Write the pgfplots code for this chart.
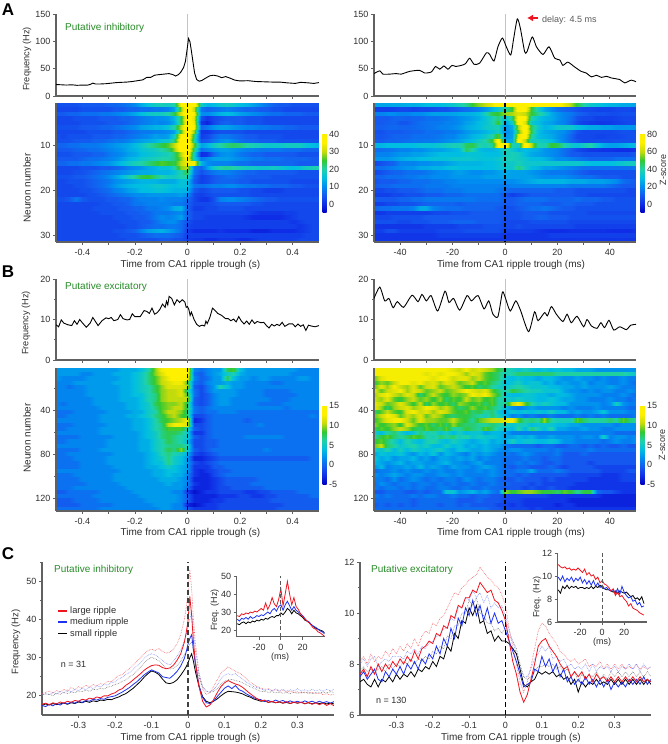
\documentclass[border=0pt]{standalone}
\usepackage{pgfplots}
\usepackage{pgfplotstable}
\pgfplotsset{compat=1.18}
\usepackage{fontspec}
\setmainfont{Liberation Sans}
\usetikzlibrary{arrows.meta}
\definecolor{txt}{gray}{0.18}
\definecolor{axgray}{gray}{0.38}
\definecolor{putgreen}{RGB}{40,140,40}
\definecolor{rred}{RGB}{240,20,30}
\definecolor{rblue}{RGB}{30,50,240}
\definecolor{zeroline}{RGB}{245,175,175}

% heat maps: rows top to bottom, 41 columns, middle column is time 0
\pgfplotstableread[header=false]{
4 4 4 4 5 5 5 5 6 6 7 8 10 13 16 18 19 18 20 35 40 38 18 14 15 17 18 17 15 14 12 10 8 6 5 5 4 4 4 4 4
3 3 3 3 4 4 4 4 4 5 5 6 6 7 7 8 8 9 12 28 40 30 8 6 7 8 9 8 7 6 6 5 5 4 4 3 3 3 3 3 3
5 5 6 6 7 7 7 8 8 9 10 11 13 15 17 18 18 20 24 32 40 34 10 10 12 14 15 14 12 11 10 9 8 7 7 6 6 6 5 5 5
3 3 3 4 4 4 4 5 5 5 6 6 7 8 9 10 10 11 14 24 38 32 4 1 3 4 5 5 5 4 4 4 3 3 3 3 3 3 3 3 3
3 3 3 3 4 4 4 4 5 5 5 6 7 8 9 10 9 10 13 24 38 33 1 -1 3 5 6 5 5 4 4 4 3 3 3 3 3 3 3 3 3
4 4 4 4 5 5 5 6 6 7 8 9 10 12 13 14 14 16 20 30 40 34 6 8 11 12 12 11 10 9 9 8 8 7 7 6 6 5 5 5 5
3 3 3 3 3 4 4 4 4 5 5 6 7 8 8 9 9 10 12 26 40 28 1 1 3 4 4 4 4 3 3 3 3 3 3 3 3 3 3 3 3
4 3 4 4 4 4 5 5 5 6 6 7 8 9 10 12 11 12 18 36 40 22 2 3 6 8 8 7 6 5 5 4 4 4 4 3 3 3 3 3 3
4 4 4 5 5 5 6 6 7 8 8 9 11 12 13 14 16 17 22 38 40 20 4 5 8 10 11 9 7 6 6 5 5 5 4 4 4 4 4 4 4
6 6 7 7 8 8 8 9 10 11 12 13 15 17 20 22 24 26 30 38 40 26 12 14 18 20 22 23 22 20 19 18 17 17 17 18 18 18 16 15 14
5 5 5 6 6 7 7 8 9 10 11 13 14 16 17 18 20 22 28 38 40 22 7 9 11 12 12 11 10 9 9 8 8 8 8 7 7 7 6 6 6
4 4 4 5 5 5 6 6 8 9 10 12 13 15 16 17 18 19 22 30 38 18 0 1 7 10 11 10 8 7 6 6 5 5 5 5 5 4 4 4 4
5 5 5 5 6 7 7 8 9 10 12 14 15 17 18 19 20 20 22 28 36 18 8 10 12 12 12 11 10 9 8 8 7 7 7 6 6 6 6 5 5
6 6 7 7 8 8 9 10 11 13 15 17 19 20 22 24 26 25 24 30 34 34 14 10 9 9 9 8 7 7 6 6 6 6 6 6 6 5 5 5 5
3 3 3 3 4 4 4 5 5 6 7 9 10 11 13 14 16 16 20 28 30 8 6 12 18 20 21 20 19 18 18 17 17 18 17 16 15 16 18 19 20
3 3 3 4 4 5 6 7 8 9 10 11 12 13 13 14 14 14 16 20 24 8 4 6 8 9 9 8 7 6 6 5 5 5 5 5 5 4 4 4 4
4 4 4 5 5 6 7 8 10 12 15 18 21 24 25 22 20 18 18 20 20 6 2 3 5 6 7 7 6 5 5 5 5 4 4 4 4 4 4 4 4
3 3 4 4 4 5 6 7 8 10 11 12 13 14 14 14 13 13 13 16 16 5 2 3 5 6 6 6 5 5 4 4 4 4 4 4 3 3 3 3 3
3 3 3 4 4 5 6 7 9 11 13 14 15 15 16 17 17 16 15 16 15 8 7 8 9 9 10 10 9 8 8 7 7 6 6 6 5 5 4 4 4
3 3 3 3 4 4 5 6 7 9 10 12 13 15 15 16 16 15 14 14 14 5 3 4 5 5 5 5 4 4 3 3 2 2 2 3 3 3 3 3 3
3 3 3 3 3 4 4 5 6 7 8 9 10 10 11 11 11 11 11 12 10 3 2 3 4 4 4 4 4 4 3 3 3 3 3 3 3 3 3 3 3
4 4 5 8 5 4 4 4 5 5 6 6 8 9 9 9 10 9 9 9 7 3 1 1 4 9 10 10 9 8 7 6 5 5 4 4 4 4 4 4 4
3 3 3 3 3 3 3 4 4 5 5 6 8 8 9 9 9 9 8 8 6 3 3 3 4 5 5 5 5 5 4 4 3 3 3 3 3 3 3 3 3
3 3 3 3 3 3 4 4 4 4 5 5 6 6 8 8 9 10 13 14 6 2 2 3 3 4 4 4 4 3 3 3 3 3 3 3 3 3 3 3 3
3 3 3 3 3 3 3 4 4 4 4 5 5 6 6 8 8 8 9 10 6 3 3 3 3 3 3 3 3 3 2 1 1 1 1 2 2 3 3 3 3
3 3 3 3 3 3 3 3 3 4 4 4 5 5 6 8 10 9 10 12 6 3 3 2 2 2 2 2 2 1 0 0 0 0 0 1 2 3 3 3 3
3 3 3 3 3 3 3 3 3 3 4 4 4 5 5 7 9 10 10 7 4 2 2 2 2 2 2 2 2 2 2 2 2 2 2 2 1 2 3 3 3
3 3 3 3 3 3 3 3 3 3 3 4 4 5 6 7 7 8 8 7 3 2 2 2 2 2 2 2 2 2 2 2 2 2 2 2 2 1 2 3 3
3 3 3 3 3 3 3 3 3 4 4 5 6 9 12 13 14 12 10 7 2 0 0 0 0 1 0 0 0 0 -1 -1 -1 0 0 0 0 1 2 3 3
3 3 3 3 3 3 3 3 3 3 4 4 4 5 6 7 7 7 6 5 2 2 2 2 2 2 2 2 2 2 2 2 2 2 2 2 2 2 3 3 3
3 3 3 3 3 3 3 3 3 3 3 4 4 4 4 4 5 5 4 4 2 1 1 0 0 1 1 1 0 0 1 2 2 2 2 2 2 3 3 3 3
}\heatAl
\pgfplotstableread[header=false]{
25 25 25 26 26 27 27 28 30 30 30 32 34 38 42 50 56 60 66 76 80 80 80 80 80 78 76 76 74 66 58 48 40 34 32 30 28 28 26 26 24
4 4 4 5 6 6 5 6 6 7 8 8 10 12 14 15 18 22 28 34 40 50 74 72 50 36 26 20 15 12 10 8 6 6 5 5 5 6 6 6 5
18 18 20 20 18 18 20 20 22 24 24 24 25 26 27 28 30 38 48 50 56 58 64 60 50 42 36 26 22 18 16 12 10 8 8 8 7 7 8 8 8
10 10 10 12 12 11 12 12 14 14 15 16 18 20 22 24 27 32 38 44 30 45 72 70 40 32 28 26 22 18 14 8 6 6 4 4 4 5 6 6 6
10 10 11 12 9 9 12 14 15 16 16 18 18 20 24 26 30 32 38 50 24 36 74 64 34 30 26 24 20 18 12 6 4 3 2 2 3 4 5 6 6
11 11 12 13 12 12 13 14 15 16 18 18 20 22 26 28 30 34 36 38 22 26 58 78 46 34 28 30 34 34 34 30 28 26 26 24 24 22 22 22 22
8 8 10 10 10 11 12 12 14 14 14 16 16 18 22 24 26 28 32 36 20 24 52 76 48 30 26 24 22 20 14 8 6 6 6 6 6 7 8 8 8
9 9 10 12 12 12 14 14 14 15 16 18 18 22 24 28 30 34 40 52 22 24 66 74 42 30 28 26 22 18 12 6 6 6 5 5 6 6 7 8 8
10 10 12 12 13 14 15 15 16 16 18 20 22 24 28 30 36 40 50 76 26 26 74 60 36 36 34 30 24 18 12 8 6 6 7 7 7 8 8 8 8
28 28 30 30 30 30 30 32 32 32 34 36 38 38 46 48 40 38 42 70 78 40 36 76 60 40 38 50 48 40 34 32 36 40 32 26 24 24 26 28 30
14 14 15 16 18 18 20 20 22 24 24 26 28 30 46 40 30 28 28 30 40 34 28 30 28 26 22 20 18 14 10 6 4 2 2 1 1 0 0 0 2
18 18 18 20 22 22 24 24 26 28 30 30 30 30 32 32 32 30 30 30 36 38 36 30 26 24 22 20 18 14 10 10 8 8 8 8 8 8 8 8 10
22 22 22 24 26 28 28 30 30 32 32 32 34 34 34 34 32 32 32 34 38 38 36 34 30 30 28 24 20 20 18 16 14 12 12 12 12 14 14 14 14
6 8 10 12 18 18 18 20 20 22 22 24 26 28 28 28 28 30 30 32 36 34 38 34 34 34 34 34 34 34 34 34 32 30 30 30 30 32 34 36 36
14 14 16 18 20 22 22 26 26 28 28 30 32 30 30 30 30 30 30 32 34 34 44 36 30 28 24 24 22 20 18 16 14 14 14 14 14 14 14 14 16
6 8 10 12 12 14 14 14 16 18 20 20 22 24 22 20 20 22 22 24 26 24 24 24 22 20 18 16 16 16 14 12 10 8 8 8 8 8 8 8 8
12 12 14 14 14 16 16 18 18 20 20 20 22 22 22 22 22 24 24 24 26 24 24 24 24 22 20 20 20 20 18 16 14 14 12 10 10 10 8 8 8
8 10 10 10 12 12 14 14 14 16 16 18 18 20 20 20 20 20 20 20 20 20 22 24 26 28 28 28 28 28 26 26 26 24 24 24 22 20 14 12 10
10 12 12 14 14 14 14 14 16 16 16 16 18 18 18 18 18 18 18 18 16 18 18 18 18 18 18 18 18 18 16 16 16 16 16 16 14 12 10 10 10
6 6 8 8 10 10 10 12 14 14 14 16 16 16 18 18 18 18 18 16 14 12 12 12 12 12 12 12 10 10 10 8 8 8 8 8 8 8 8 6 6
4 4 4 6 6 8 8 8 10 10 10 12 12 12 14 14 14 14 14 14 8 4 6 8 10 10 10 10 10 10 10 8 8 6 6 6 6 6 6 6 6
10 10 10 10 12 12 14 14 16 16 16 16 16 16 16 16 14 14 14 14 10 10 12 14 14 14 14 12 12 12 12 14 12 12 12 10 10 8 8 8 8
4 4 6 6 8 8 8 10 12 12 12 12 12 10 12 12 12 12 12 12 10 10 12 12 12 12 10 10 10 12 12 10 10 10 8 8 8 8 8 8 8
12 14 14 16 16 16 18 26 26 18 16 14 14 14 12 12 12 12 12 10 8 8 10 12 14 14 16 14 12 10 10 8 8 8 8 8 8 8 8 8 8
2 2 4 4 4 4 4 4 4 6 6 6 8 8 8 10 10 10 10 10 8 8 8 10 10 10 10 8 8 8 8 8 8 6 6 6 6 6 6 6 6
6 6 6 8 8 8 8 8 10 10 10 10 10 10 10 10 10 10 10 10 8 8 8 10 10 12 12 10 10 10 8 8 8 8 8 8 8 8 8 8 8
8 8 8 8 6 6 8 8 8 10 10 10 12 12 12 12 10 10 10 10 6 6 6 6 8 8 8 8 8 8 6 6 6 6 6 6 6 6 6 6 6
2 2 2 2 2 2 2 2 4 4 4 4 4 6 6 6 6 8 8 8 6 6 8 6 6 6 6 6 6 6 6 4 4 4 4 4 4 4 4 4 4
4 4 8 8 4 4 4 4 4 4 6 6 6 6 8 8 8 8 8 8 4 4 4 4 4 2 1 0 0 0 1 1 1 1 1 1 0 0 0 0 2
2 2 2 2 2 2 2 2 2 2 4 4 4 4 4 4 4 4 4 4 2 2 2 2 2 2 2 4 4 4 4 4 4 4 4 4 4 4 4 4 4
2 2 2 2 2 2 2 2 2 2 2 2 2 2 2 2 2 2 2 2 2 2 2 2 2 2 2 2 2 2 2 2 2 2 2 2 2 2 2 2 2
}\heatAr
\pgfplotstableread[header=false]{
3 3 3 3 3 3 3 3 3 3 4 4 4 5 7 11 14 15 15 15 15 2 1 2 3 3 9 10 5 3 3 3 3 3 3 3 3 2 2 2 2
3 3 3 3 2 2 3 3 3 4 4 4 5 6 8 11 13 15 15 15 15 1 0 2 3 4 6 7 4 3 3 3 3 3 3 3 2 2 2 2 2
3 2 2 2 2 3 3 3 3 3 4 4 5 6 8 10 12 14 15 15 14 2 0 1 3 3 9 5 3 3 2 3 3 2 2 2 2 3 3 2 2
2 2 2 3 3 3 3 3 3 4 4 4 5 6 8 10 12 13 14 14 10 1 0 2 3 3 4 3 3 2 2 2 2 1 1 2 2 2 2 2 2
2 2 1 2 2 3 3 3 3 3 4 4 5 6 7 9 11 13 13 13 12 0 -1 1 3 7 5 3 3 2 2 2 2 2 2 2 2 2 2 2 2
2 2 2 2 2 3 3 3 3 3 4 4 5 6 7 9 11 12 12 13 8 1 -1 1 3 3 3 3 2 2 2 2 1 1 1 1 2 2 2 2 2
2 2 2 2 2 3 3 3 3 3 4 4 5 5 7 8 11 12 12 13 10 1 -1 0 2 3 3 3 2 2 2 2 1 1 1 1 1 2 2 2 2
2 2 2 2 2 2 3 3 3 3 4 4 4 5 7 8 11 12 12 12 12 0 -1 0 2 3 3 2 2 2 2 2 2 1 1 1 2 2 2 2 2
2 1 2 2 2 2 3 3 3 3 3 4 4 5 6 9 10 11 11 12 9 0 -1 0 2 3 3 2 2 2 2 1 1 1 1 2 2 2 2 2 2
2 2 2 2 2 2 2 3 3 3 3 4 4 5 6 8 10 11 12 12 9 1 0 1 2 2 2 2 2 2 2 2 2 2 2 1 2 2 2 2 2
1 1 1 2 2 2 2 2 3 3 3 3 4 4 6 7 10 12 12 11 8 1 0 1 1 2 2 2 1 1 1 1 1 1 1 1 1 1 1 1 1
1 1 2 2 2 2 2 3 3 3 3 4 4 5 6 8 9 11 12 10 9 -1 -1 0 1 1 1 1 1 1 1 1 1 1 1 1 1 1 1 2 1
2 2 2 2 2 2 2 3 3 3 3 3 4 4 5 7 9 10 11 12 14 -3 -2 0 1 1 1 1 1 0 1 1 1 1 1 1 1 1 1 1 1
1 1 1 2 2 2 2 2 3 3 3 3 4 4 5 7 8 12 14 14 13 -1 -1 0 1 1 1 1 1 1 1 2 1 1 1 1 1 1 1 1 1
1 1 2 2 2 2 2 3 3 3 3 3 4 4 5 7 8 10 10 10 7 0 -1 0 1 1 1 1 1 1 1 1 1 1 1 1 1 1 1 1 1
2 2 2 2 2 2 2 3 3 3 3 3 3 4 5 6 8 9 9 8 6 -2 -2 0 1 1 1 1 1 1 1 1 1 1 1 1 1 1 1 1 1
1 1 1 1 2 2 2 2 2 3 3 3 3 4 5 6 8 9 8 7 6 0 -1 0 1 1 1 1 1 2 2 2 2 2 2 1 1 1 1 1 1
1 1 2 2 2 2 2 2 3 3 3 3 3 4 4 6 7 9 8 7 5 -1 -1 0 0 1 1 1 1 1 1 1 1 1 1 1 1 1 1 1 1
2 2 2 2 2 2 2 2 3 3 3 3 3 4 4 6 7 8 8 8 7 -1 -1 0 0 1 1 1 1 1 1 1 1 1 1 1 1 1 1 1 1
1 1 1 1 2 2 2 3 3 3 3 3 3 4 4 6 7 9 8 11 6 0 -1 0 1 1 1 1 1 1 1 1 2 1 1 1 1 1 1 1 1
1 1 2 2 2 2 2 2 2 3 3 3 3 3 4 5 7 8 7 6 4 -1 -2 -1 0 1 1 1 1 1 1 1 1 1 1 1 1 1 1 1 1
1 1 1 2 2 2 2 2 3 3 3 3 3 3 4 5 6 8 6 5 3 -3 -3 -2 -1 0 0 0 0 0 0 0 0 0 0 0 0 0 0 1 1
1 1 1 1 2 2 2 2 3 3 3 3 3 3 4 5 5 8 6 5 3 -1 -2 -1 0 1 1 1 1 1 1 1 1 1 1 1 1 1 1 1 1
1 1 1 1 2 2 2 2 2 3 3 3 3 3 4 4 5 6 5 4 3 -2 -2 -2 0 0 1 1 1 1 1 1 1 1 1 1 1 1 1 1 1
2 2 2 2 2 2 2 2 2 2 3 3 3 3 3 4 4 5 5 4 3 -2 -3 -2 -1 0 0 1 1 1 1 1 1 1 1 1 1 1 1 1 1
1 1 1 2 2 2 2 2 2 3 3 3 3 3 3 4 4 5 4 4 2 -2 -3 -3 -1 0 1 1 1 1 1 1 1 1 1 1 1 1 1 1 1
1 1 1 1 2 2 2 2 2 3 3 3 3 3 3 3 4 4 4 3 2 -3 -3 -3 -2 -1 0 0 0 0 0 1 1 1 1 1 1 1 1 1 1
1 1 1 1 1 2 2 2 2 2 3 3 3 3 3 3 3 4 3 3 2 -2 -3 -3 -2 -1 0 0 0 0 1 1 1 1 1 1 1 1 1 1 1
1 1 1 2 2 2 2 2 2 2 2 3 3 3 3 3 3 3 3 3 1 -3 -3 -3 -2 -1 -1 0 0 0 0 0 1 1 1 1 1 1 1 1 1
0 0 1 1 1 1 1 2 2 2 2 2 3 3 3 3 3 3 2 2 -2 -4 -3 -2 -2 -1 -1 -1 -1 -2 -2 -1 -1 0 0 0 0 1 1 1 1
1 1 1 1 1 1 2 2 2 2 2 2 2 3 3 3 3 3 3 2 0 -3 -3 -3 -3 -2 -2 -2 -1 -1 -2 -2 -1 -1 0 0 0 0 0 1 1
0 0 0 1 1 1 1 2 2 2 2 2 2 2 3 3 3 3 3 2 0 -3 -3 -3 -2 -2 -1 -1 -1 -1 -1 -1 -1 0 0 0 0 0 0 0 0
0 0 0 0 1 1 1 1 1 2 2 2 2 2 2 3 3 3 2 2 -3 -4 -3 -2 -2 -1 -1 -1 -1 -1 -1 -1 -1 -1 -1 0 0 0 0 0 0
1 1 1 1 1 1 1 2 2 2 2 2 2 2 2 2 3 3 2 2 0 -2 -2 -2 -2 -1 -1 -1 -1 -1 -1 -1 -1 -1 0 0 0 0 0 0 0
}\heatBl
\pgfplotstableread[header=false]{
15 15 15 15 15 15 15 15 15 15 15 15 14 13 15 13 14 13 12 10 8 7 6 7 6 5 6 5 6 5 5 4 4 4 3 3 3 3 3 3 3
15 15 15 15 15 15 15 15 14 15 14 15 15 14 12 14 13 11 10 9 7 8 9 9 9 9 9 9 8 8 8 8 8 8 8 8 8 8 8 7 6
11 14 15 15 15 15 15 15 15 14 15 15 13 14 14 12 13 11 10 9 6 5 6 5 5 4 5 5 4 3 3 4 3 3 2 3 2 2 3 2 2
10 12 11 13 15 15 14 15 13 14 12 14 13 11 12 13 10 11 9 8 5 6 7 5 6 6 4 5 3 4 3 3 4 2 3 3 2 2 3 2 1
11 14 12 15 13 12 14 11 13 14 11 12 13 12 10 11 9 10 8 7 6 7 8 7 6 6 6 5 5 4 4 3 4 3 3 3 4 3 2 2 2
14 11 13 14 15 12 14 13 11 12 13 11 12 13 15 14 13 14 11 9 7 10 9 8 7 7 6 6 6 4 3 3 2 3 2 3 3 2 2 3 2
12 14 15 13 12 14 13 9 11 13 11 10 12 11 12 15 14 15 12 10 6 5 5 6 6 5 5 4 5 5 4 3 3 3 3 2 2 2 3 2 1
13 12 14 11 10 12 13 11 12 10 12 9 11 10 13 11 12 10 11 8 7 6 7 6 6 5 5 6 5 4 4 3 3 2 2 2 3 2 2 1 2
14 13 11 12 14 12 10 13 9 12 10 11 9 12 11 10 11 9 11 8 8 13 15 11 8 6 7 6 5 5 3 3 3 3 3 2 3 7 3 2 2
14 12 9 12 13 14 12 13 15 14 12 13 11 9 10 12 10 11 9 8 5 3 2 3 4 3 3 3 3 2 3 2 2 2 3 2 2 2 2 1 1
9 11 13 11 10 14 15 13 14 12 14 13 11 10 11 9 10 8 9 6 4 6 5 6 5 6 5 7 5 5 3 4 3 3 4 6 3 3 3 2 2
11 13 15 14 11 13 12 14 11 13 12 10 9 10 10 9 8 7 9 7 5 2 3 1 2 1 1 2 1 1 1 2 1 2 1 2 1 1 1 1 2
10 12 14 15 15 13 11 14 12 12 11 11 13 11 10 8 11 12 13 13 14 15 11 8 9 8 12 8 7 7 7 11 9 8 8 8 9 8 11 9 8
12 10 11 12 10 14 12 10 11 9 11 9 12 10 9 9 8 8 9 8 7 6 7 7 5 6 6 6 5 5 4 4 3 3 3 3 3 2 3 3 3
9 11 10 12 13 12 10 9 11 10 9 11 8 8 10 9 8 11 9 7 6 5 8 5 9 7 5 8 4 4 3 3 4 3 3 2 2 3 3 3 3
7 5 8 9 7 5 6 9 7 8 6 7 5 7 5 6 6 4 5 5 4 2 2 2 2 2 2 2 2 2 2 2 2 2 2 2 2 1 1 1 1
8 10 11 9 8 9 11 10 8 7 9 8 9 7 8 6 7 6 6 5 4 4 5 4 5 3 3 4 3 3 3 2 3 3 2 7 2 3 3 2 3
10 11 9 7 5 8 6 5 7 8 6 5 7 6 5 4 5 6 4 5 4 7 5 6 6 5 5 6 5 3 3 2 2 2 2 1 2 3 2 2 3
11 13 9 8 6 7 8 6 7 5 5 7 5 6 4 5 4 5 4 4 2 1 1 1 1 0 1 1 0 0 1 1 0 1 0 1 0 0 1 0 0
7 6 8 5 7 5 7 6 5 6 7 5 4 6 5 4 4 5 4 3 2 3 3 2 2 2 2 1 2 1 1 1 1 2 1 1 1 1 1 1 1
4 6 5 5 6 4 3 5 4 6 3 5 4 3 2 4 3 4 3 2 2 1 2 3 2 1 1 1 2 0 0 0 1 0 0 0 0 0 0 0 0
6 4 5 3 4 4 5 3 4 2 4 4 3 4 3 4 2 3 2 2 1 1 1 2 1 1 0 1 1 0 0 0 0 0 0 0 0 0 0 0 0
5 4 3 4 5 3 4 4 3 3 4 5 3 3 2 3 4 2 2 2 1 1 2 1 2 1 0 0 1 0 0 0 0 -1 0 0 0 0 0 0 0
3 5 2 3 3 4 3 5 3 4 3 2 4 3 3 2 3 4 3 2 1 0 1 1 0 0 0 1 0 -1 0 0 0 0 -1 -1 -1 -1 -1 -1 -1
1 2 2 3 2 3 2 2 3 2 3 2 2 3 2 2 3 2 3 2 1 1 2 2 4 1 1 1 2 1 0 0 0 0 0 -1 -1 -1 -1 0 0
3 2 3 4 3 2 3 3 2 2 3 3 2 3 2 2 2 2 3 2 1 1 0 1 0 0 0 0 0 0 -1 -1 -1 -1 -1 -2 -2 -2 -1 -1 -1
2 2 1 3 1 2 3 2 1 2 1 2 2 1 3 2 1 2 2 1 0 0 1 0 0 0 -1 0 -1 -1 -1 -1 -1 -2 -2 -2 -2 -2 -1 -1 -1
1 3 2 1 2 2 1 2 2 1 2 1 2 1 1 2 1 1 2 1 1 0 0 0 -1 0 -1 -1 -1 -1 -1 -2 -2 -2 -2 -2 -2 -2 -2 -2 -2
2 1 2 2 1 2 1 2 1 1 2 2 1 1 2 1 1 2 1 1 0 0 0 -1 0 -1 -1 0 -1 -1 -2 -2 -2 -2 -2 -2 -2 -2 -2 -2 -2
0 0 1 1 1 0 0 1 0 1 1 6 6 3 4 5 3 4 2 1 12 10 11 12 12 11 10 10 9 11 10 8 10 10 1 0 0 -1 -2 -2 -2
2 1 2 1 1 1 2 1 2 2 1 1 2 1 1 0 1 1 0 0 -1 -1 -1 -1 -1 -1 -1 -2 -2 -2 -2 -2 -2 -2 -2 -3 -3 -3 -3 -3 -3
1 1 1 1 1 1 0 1 1 1 1 1 1 0 0 0 1 0 0 0 -1 -1 -1 -2 -2 -2 -2 -2 -2 -2 -3 -3 -3 -3 -3 -3 -3 -3 -3 -3 -3
0 1 0 1 0 1 0 1 1 1 0 1 1 0 1 0 0 0 0 -1 -1 -2 -1 -2 -2 -2 -2 -2 -3 -2 -2 -3 -3 -3 -3 -3 -3 -3 -3 -3 -3
1 1 1 1 1 1 1 1 1 1 1 1 1 1 1 1 1 1 0 0 -1 -1 -1 -1 -2 -1 -2 -2 -2 -2 -2 -2 -2 -2 -2 -2 -2 -2 -2 -2 -2
}\heatBr

% panel C: x, large, medium, small, then the dotted upper bounds
\pgfplotstableread{
x r b k ru bu ku
-0.40 17.8 17.5 17.5 20.6 20.2 20.2
-0.39 18.1 17.2 17.9 20.9 20.6 20.5
-0.38 17.7 17.8 17.6 21.3 20.3 20.4
-0.37 18.2 17.4 18.0 20.7 20.9 20.1
-0.36 17.9 18.0 17.7 21.4 20.5 20.7
-0.35 18.4 17.6 17.9 21.0 21.2 20.4
-0.34 18.1 18.2 18.1 21.7 20.8 20.9
-0.33 18.6 17.9 17.8 21.2 21.5 20.6
-0.32 18.3 18.4 18.2 22.2 21.0 21.0
-0.31 18.8 18.1 18.0 21.6 21.7 20.8
-0.30 18.6 18.6 18.4 22.4 21.4 21.3
-0.29 19.1 18.3 18.2 22.0 22.0 21.1
-0.28 18.9 18.8 18.6 22.8 21.6 21.5
-0.27 19.4 18.6 18.3 22.3 22.3 21.2
-0.26 19.2 19.1 18.7 23.0 21.9 21.7
-0.25 19.7 18.9 18.5 22.6 22.6 21.6
-0.24 19.5 19.3 18.9 23.2 22.3 22.0
-0.23 20.0 19.1 18.8 23.0 23.0 21.8
-0.22 20.0 19.6 19.1 23.8 22.8 22.3
-0.21 20.5 19.8 19.0 23.7 23.5 22.5
-0.20 20.8 20.0 19.4 24.6 23.6 23.0
-0.19 21.5 20.5 19.7 25.3 24.4 23.2
-0.18 21.9 21.0 20.2 25.6 24.9 23.8
-0.17 22.8 21.6 20.6 26.5 25.6 24.2
-0.16 23.4 22.2 21.3 27.2 26.1 25.0
-0.15 24.2 23.0 22.0 28.1 27.0 25.6
-0.14 25.0 23.7 22.9 29.0 27.8 26.5
-0.13 25.8 24.6 23.8 30.0 28.6 27.5
-0.12 26.7 25.5 24.9 31.0 29.8 28.6
-0.11 27.4 26.2 25.8 31.8 30.6 29.5
-0.10 27.9 26.8 26.5 32.2 31.0 30.1
-0.09 28.1 26.4 26.2 31.8 30.7 29.7
-0.08 28.0 26.0 25.6 32.4 30.1 29.2
-0.07 27.4 25.0 24.4 31.6 29.3 28.3
-0.06 27.1 24.8 23.4 31.2 28.5 27.2
-0.05 27.3 24.6 23.2 31.4 28.1 27.0
-0.04 28.0 25.4 23.5 32.2 29.0 27.2
-0.03 29.3 26.4 24.2 33.6 30.4 27.9
-0.02 31.0 27.8 25.4 36.0 32.0 29.1
-0.01 34.0 29.8 26.8 40.0 34.4 30.8
-0.005 36.5 31.5 27.6 43.0 36.0 31.6
0.00 39.5 33.5 28.6 47.0 38.0 32.6
0.005 46.0 35.0 30.0 53.0 40.0 33.5
0.01 41.0 36.0 31.0 48.0 42.0 34.2
0.015 34.0 32.0 29.0 40.0 36.5 31.5
0.02 29.0 28.5 26.5 34.0 32.0 29.0
0.03 22.5 22.8 22.5 26.0 26.0 25.0
0.04 18.6 19.6 19.8 21.8 22.5 22.3
0.05 17.1 18.2 18.6 20.4 21.2 21.2
0.06 17.6 18.0 18.2 20.8 21.0 20.9
0.07 19.0 18.6 18.6 22.4 21.6 21.2
0.08 20.8 19.8 19.2 24.2 22.8 21.9
0.09 22.4 20.9 20.0 25.9 24.4 23.0
0.10 23.4 22.0 20.7 26.8 25.4 23.8
0.11 24.0 22.6 21.2 27.6 25.8 24.2
0.12 23.5 21.9 21.1 27.0 25.4 24.3
0.13 23.1 22.7 21.0 26.4 25.9 24.0
0.14 22.8 21.6 20.8 26.0 25.0 23.8
0.15 22.2 21.2 20.5 25.4 24.4 23.4
0.16 21.4 20.5 20.0 24.4 23.6 22.9
0.17 20.6 20.0 19.7 23.6 23.0 22.4
0.18 19.9 19.5 19.2 23.0 22.4 22.0
0.19 19.2 19.2 18.9 22.4 22.1 21.6
0.20 18.7 19.0 18.6 22.0 21.8 21.1
0.21 18.9 18.5 18.7 21.7 21.4 21.2
0.22 18.3 18.8 18.3 21.9 21.7 20.9
0.23 18.6 18.4 18.5 21.4 21.3 21.1
0.24 18.2 18.9 18.2 21.6 21.8 20.8
0.25 18.5 18.5 18.4 21.2 21.4 21.0
0.26 18.1 18.8 18.1 21.4 21.7 20.7
0.27 18.5 18.3 18.3 21.0 21.2 20.9
0.28 18.0 18.7 18.0 21.3 21.6 20.6
0.29 18.4 18.3 18.3 20.9 21.3 20.9
0.30 18.1 18.6 18.1 21.1 21.9 20.7
0.31 18.4 18.2 18.3 20.7 21.2 20.9
0.32 17.9 18.7 18.0 21.0 21.6 20.8
0.33 18.3 18.3 18.2 20.6 21.2 21.0
0.34 17.8 18.6 17.9 20.9 21.7 20.6
0.35 18.2 18.2 18.2 20.5 21.3 20.9
0.36 17.7 18.6 18.0 20.8 21.6 20.7
0.37 18.1 18.2 18.2 20.3 21.2 21.0
0.38 17.5 18.5 17.9 20.6 21.7 20.8
0.39 18.0 18.1 18.1 20.2 21.3 21.1
0.40 17.4 18.5 17.9 20.5 21.7 20.9
}\cLeft
\pgfplotstableread{
x r b k ru bu ku
-0.40 7.6 7.5 7.3 8.1 8.0 7.7
-0.39 7.8 7.7 7.4 8.3 8.2 7.9
-0.38 7.5 7.4 7.2 8.0 7.9 7.7
-0.37 7.9 7.6 7.1 8.4 8.2 7.8
-0.36 7.6 7.8 7.4 8.1 8.3 7.6
-0.35 8.0 7.4 7.1 8.3 7.9 7.8
-0.34 7.7 7.3 7.4 8.2 8.1 7.9
-0.33 8.0 7.7 7.3 8.5 8.2 7.7
-0.32 7.8 7.5 7.5 8.3 8.1 8.0
-0.31 8.1 7.8 7.3 8.6 8.3 7.8
-0.30 7.9 7.6 7.6 8.4 8.3 8.0
-0.29 8.2 7.9 7.4 8.7 8.3 7.9
-0.28 8.0 7.6 7.6 8.5 8.2 8.1
-0.27 8.3 8.0 7.5 8.8 8.5 8.0
-0.26 8.1 7.8 7.7 8.6 8.4 8.2
-0.25 8.5 8.1 7.5 9.0 8.6 8.0
-0.24 8.2 7.8 7.8 8.7 8.4 8.2
-0.23 8.6 8.2 7.7 9.1 8.7 8.1
-0.22 8.7 8.0 7.9 9.3 8.6 8.3
-0.21 8.9 8.4 7.8 9.2 8.8 8.2
-0.20 8.8 8.2 8.1 9.6 8.9 8.5
-0.19 9.2 8.7 7.9 9.5 9.1 8.4
-0.18 9.1 8.4 8.3 9.8 9.1 8.7
-0.17 9.5 9.0 8.2 9.9 9.4 8.6
-0.16 9.4 8.7 8.7 10.2 9.4 9.1
-0.15 9.9 9.4 8.5 10.5 9.8 9.0
-0.14 9.8 9.0 9.2 10.8 9.7 9.5
-0.13 10.3 9.8 9.0 10.7 10.2 9.5
-0.12 10.2 9.5 9.7 11.0 10.2 10.0
-0.11 10.6 10.2 9.6 11.1 10.6 10.0
-0.10 10.6 9.9 10.2 11.3 10.5 10.5
-0.09 10.9 10.5 9.9 11.4 10.9 10.3
-0.08 10.8 9.9 10.3 11.5 10.6 10.6
-0.07 11.2 10.3 9.6 11.8 10.8 10.0
-0.06 11.0 9.7 9.7 11.6 10.4 9.9
-0.05 10.8 10.2 9.2 11.4 10.7 9.6
-0.04 10.9 9.6 9.3 11.3 10.2 9.6
-0.03 10.5 10.0 8.9 11.1 10.4 9.3
-0.02 10.4 9.6 9.1 11.0 10.2 9.4
-0.01 10.1 9.7 8.9 10.7 10.3 9.2
0.00 9.7 9.3 8.9 10.3 9.9 9.4
0.01 8.9 8.9 8.8 9.4 9.3 9.1
0.02 8.1 8.5 8.6 8.7 8.9 8.9
0.03 7.6 8.1 8.4 8.0 8.4 8.6
0.04 6.9 7.6 7.8 7.3 7.9 8.0
0.05 6.5 7.1 7.2 6.9 7.5 7.5
0.06 6.8 7.2 7.1 7.3 7.5 7.4
0.07 7.4 7.3 7.3 7.9 7.8 7.5
0.08 8.0 7.8 7.4 8.6 8.2 7.7
0.09 8.7 7.7 7.7 9.3 8.4 7.9
0.10 8.9 8.3 7.6 9.6 8.7 7.9
0.11 9.0 7.9 7.7 9.5 8.5 8.0
0.12 8.7 8.2 7.6 9.2 8.7 7.9
0.13 8.5 7.7 7.7 9.0 8.2 8.0
0.14 8.3 8.0 7.5 8.8 8.3 7.8
0.15 8.0 7.5 7.6 8.5 8.1 7.9
0.16 7.8 7.8 7.4 8.4 8.2 7.7
0.17 7.9 7.3 7.5 8.2 7.9 7.8
0.18 7.5 7.5 7.2 8.1 8.0 7.5
0.19 7.7 7.2 7.4 8.2 7.8 7.7
0.20 7.5 7.4 6.9 8.0 7.9 7.3
0.21 7.7 7.2 7.3 8.1 7.8 7.6
0.22 7.4 7.5 7.1 8.2 8.0 7.4
0.23 7.6 7.2 7.3 7.9 7.7 7.6
0.24 7.3 7.4 7.2 8.0 8.0 7.5
0.25 7.6 7.1 7.4 7.9 7.7 7.7
0.26 7.4 7.4 7.2 8.1 7.9 7.4
0.27 7.5 7.1 7.3 7.8 7.8 7.6
0.28 7.3 7.4 7.2 8.0 7.9 7.4
0.29 7.5 7.0 7.4 7.8 7.7 7.7
0.30 7.3 7.3 7.2 8.0 7.9 7.5
0.31 7.5 7.1 7.4 7.8 7.7 7.7
0.32 7.3 7.3 7.2 8.0 7.9 7.5
0.33 7.5 7.1 7.4 7.8 7.8 7.7
0.34 7.3 7.4 7.2 7.9 8.0 7.5
0.35 7.5 7.2 7.4 7.8 7.8 7.7
0.36 7.3 7.4 7.2 8.0 8.0 7.5
0.37 7.5 7.2 7.4 7.8 7.7 7.7
0.38 7.3 7.5 7.2 7.9 8.0 7.5
0.39 7.4 7.2 7.4 7.8 7.8 7.7
0.40 7.3 7.4 7.2 7.9 7.9 7.5
}\cRight
\pgfplotstableread{
x r b k
-40 28 26 23.5
-38 27.5 25 23
-36 29 26.5 24
-34 28.5 26 24.5
-32 29.5 27 23.5
-30 29 26 24.5
-28 30 27.5 24
-26 29.5 26.5 25
-24 30.5 27 24.5
-22 30 28 25.5
-20 31 27.5 25
-18 32 28.5 26
-16 31 28 25.5
-14 35 29 26.5
-12 31.5 30 26
-10 34 29 27
-8 38 31 27.5
-6 34.5 32 27
-4 33 30.5 28
-2 37 33 28
0 43 34 29.5
2 33.5 31 28.5
4 40 34 30
6 47 36 32
8 40 33.5 31
10 34 31 29
12 38 33 31
14 33 31 29.5
16 31.5 30 29
18 29 29 28
20 27.5 28 27
22 26 26.5 25.5
24 25 25 25
26 24 24.5 24
28 22.5 23 23
30 21 22 22
32 20.5 21.5 21
34 19 20.5 20.5
36 18.5 19.5 20
38 17.5 19 19.5
40 16.5 18 18.5
}\insL
\pgfplotstableread{
x r b k
-40 11.0 9.9 8.8
-38 10.8 9.6 8.5
-36 10.7 10.0 9.1
-34 10.8 9.5 8.9
-32 10.6 9.8 9.2
-30 10.7 9.6 8.9
-28 10.5 9.9 9.1
-26 10.6 9.5 9.0
-24 10.5 9.8 9.1
-22 10.7 9.6 8.9
-20 10.5 9.9 9.0
-18 10.3 9.4 9.0
-16 10.6 9.7 8.9
-14 10.1 9.3 9.0
-12 10.3 9.6 8.9
-10 10.0 9.2 9.1
-8 10.1 9.6 8.9
-6 9.7 9.1 9.1
-4 9.9 9.4 9.0
-2 9.4 9.0 9.2
0 9.6 9.2 9.0
2 9.3 8.9 8.9
4 9.2 9.0 8.8
6 9.0 8.8 8.8
8 8.7 8.7 8.7
10 8.9 8.8 8.6
12 8.3 8.5 8.7
14 8.6 8.9 8.5
16 8.2 8.4 8.7
18 8.3 9.1 8.6
20 8.0 8.6 8.5
22 7.8 8.3 8.6
24 7.4 8.1 8.4
26 7.6 8.2 8.2
28 7.2 7.8 8.3
30 7.1 7.9 8.0
32 7.0 7.5 8.1
34 6.8 7.7 7.9
36 6.7 7.3 8.2
38 6.6 7.4 7.6
}\insR

\pgfplotsset{
  colormap={heat}{rgb255(0cm)=(0,0,190) rgb255(1cm)=(15,45,230) rgb255(2cm)=(20,90,240) rgb255(3cm)=(0,140,240) rgb255(4cm)=(0,190,225) rgb255(5cm)=(30,210,170) rgb255(6cm)=(50,200,50) rgb255(7cm)=(200,220,10) rgb255(8cm)=(255,240,0) rgb255(9cm)=(255,240,0)},
  colormap name=heat,
  base/.style={scale only axis,axis line style={axgray,line width=1.1pt,-},
    tick style={axgray,line width=0.8pt},major tick length=3pt,minor tick length=2pt,
    tick align=outside,tick label style={font=\fontsize{9}{10}\selectfont,text=txt,/pgf/number format/assume math mode=true},
    axis x line*=bottom,axis y line*=left,xticklabel style={yshift=-1pt},yticklabel style={xshift=1pt}},
  heatbg/.style={scale only axis,hide axis,view={0}{90},y dir=reverse},
  cbar/.style={colorbar,colorbar style={at={(parent axis.south east)},anchor=south west,
    xshift=-5pt,yshift=#1,width=4pt,height=79pt,scale only axis,ytick pos=right,yticklabel pos=right,
    major tick length=0pt,axis line style={draw=none},
    yticklabel style={font=\fontsize{9}{10}\selectfont,text=txt,xshift=-1pt}}},
  zero/.style={black,line width=1.2pt,dash pattern=on 4pt off 2pt},
  zeropink/.style={zeroline,line width=1pt},
  trace/.style={black,line width=0.9pt},
  rline/.style={rred,line width=0.8pt},
  bline/.style={rblue,line width=0.8pt},
  kline/.style={black,line width=0.8pt},
  rdot/.style={rred!70,line width=0.6pt,densely dotted},
  bdot/.style={rblue!60,line width=0.6pt,densely dotted},
  kdot/.style={black!55,line width=0.6pt,densely dotted},
}
\newtoks\hmtoks
% table to (x,y,z) triples, each row kept flat over its own band; table, x0, dx, ytop, rowheight
\newcommand{\buildheat}[5]{%
  \global\hmtoks={}%
  \pgfplotstablegetrowsof{#1}\pgfmathtruncatemacro\hmr{\pgfplotsretval-1}%
  \pgfplotstablegetcolsof{#1}\pgfmathtruncatemacro\hmc{\pgfplotsretval-1}%
  \foreach \r in {0,...,\hmr}{%
    \foreach \e in {0,0.98}{%
      \pgfmathsetmacro\hy{#4+(\r+\e)*#5}%
      \foreach \c in {0,...,\hmc}{%
        \pgfplotstablegetelem{\r}{[index]\c}\of{#1}%
        \pgfmathsetmacro\hx{#2+\c*#3}%
        \xdef\hmnew{(\hx,\hy,\pgfplotsretval)}%
        \global\hmtoks=\expandafter\expandafter\expandafter{\expandafter\the\expandafter\hmtoks\hmnew}%
      }%
    }%
  }%
}
\newcommand{\heatsurf}{\edef\doplot{\noexpand\addplot3[surf,shader=interp,mesh/cols=41,mesh/ordering=x varies,point meta=z] coordinates {\the\hmtoks};}\doplot}
\newcommand{\lab}[4][]{\node[inner sep=0pt,text=txt,#1] at (#2,744-#3) {#4};}
\newcommand{\fs}[1]{\fontsize{#1}{#1}\selectfont}

\begin{document}
\begin{tikzpicture}[x=1pt,y=1pt]
\path[use as bounding box] (0,0) rectangle (668,744);

% --- A, line plots
\begin{axis}[base,at={(56pt,648pt)},anchor=south west,width=263pt,height=82pt,xmin=-0.5,xmax=0.5,ymin=0,ymax=150,
  xtick={-0.4,-0.3,...,0.41},xticklabels={},ytick={0,50,100,150}]
\addplot[zeropink] coordinates {(0,0)(0,150)};
\addplot[trace] coordinates {(-0.50,21)(-0.48,20.5)(-0.46,20)(-0.44,20.5)(-0.42,19.5)(-0.40,20)(-0.38,20)(-0.37,21)(-0.36,23.5)(-0.35,22)(-0.33,22)(-0.31,22.5)(-0.29,23.5)(-0.27,24.5)(-0.25,25)(-0.23,25.5)(-0.21,26.5)(-0.19,28)(-0.17,29.5)(-0.155,34)(-0.14,34)(-0.125,38)(-0.11,39)(-0.09,40)(-0.07,41)(-0.055,39)(-0.045,36.5)(-0.035,39)(-0.025,44)(-0.015,52)(-0.008,63)(-0.003,80)(0.004,105)(0.009,100)(0.014,85)(0.02,65)(0.027,42)(0.035,30)(0.045,27)(0.055,28.5)(0.07,33)(0.085,37)(0.10,38)(0.115,36.5)(0.13,33.5)(0.145,35.5)(0.16,33)(0.18,29)(0.20,27.5)(0.23,28)(0.26,26.5)(0.29,26)(0.32,25.5)(0.35,25.5)(0.38,24)(0.41,23)(0.43,25)(0.46,24)(0.48,23)(0.50,24.5)};
\end{axis}
\begin{axis}[base,at={(374pt,648pt)},anchor=south west,width=262pt,height=82pt,xmin=-50,xmax=50,ymin=0,ymax=150,
  xtick={-40,-30,...,40},xticklabels={},ytick={0,50,100,150}]
\addplot[zeropink] coordinates {(0,0)(0,150)};
\addplot[trace,smooth,tension=0.4] coordinates {(-50,41)(-47.8,46)(-46.6,40)(-44,40)(-41.5,41)(-39.6,40)(-36.4,45)(-32.6,47)(-30.7,42)(-28.1,44)(-26.5,54)(-24.9,49)(-23.3,55)(-21.8,49)(-20.2,56)(-18.8,54)(-16.7,56)(-15.1,59)(-13.5,69)(-11.8,58)(-9.7,60)(-7.1,79)(-5.9,76.5)(-4.2,64)(-2.7,90)(-1,106)(0.5,90)(2.2,75)(3.3,105)(4.7,141)(5.9,123)(7.5,81)(8.4,81)(10.4,108)(12,90)(14.5,76)(16.8,90)(19,69)(20.9,66)(22.1,56)(24,62)(26.6,53)(29.1,45)(31,42)(33,35)(34.9,38)(36.8,34)(38.7,36)(40.6,33)(43.8,30)(45.7,24)(48.2,29)(50,26)};
\end{axis}

% --- A, heat maps
\buildheat{\heatAl}{-0.5}{0.025}{0.5}{1}
\begin{axis}[heatbg,at={(56pt,502pt)},anchor=south west,width=263pt,height=139pt,xmin=-0.5,xmax=0.5,ymin=0.5,ymax=31.5,point meta min=-5,point meta max=40]
\heatsurf
\end{axis}
\begin{axis}[base,at={(56pt,502pt)},anchor=south west,width=263pt,height=139pt,xmin=-0.5,xmax=0.5,ymin=-31.5,ymax=-0.5,
  point meta min=-5,point meta max=40,cbar=29pt,colorbar style={ytick={0,10,20,30,40},yticklabels={0,10,20,30,40}},
  xtick={-0.4,-0.3,...,0.41},xticklabels={-0.4,,-0.2,,0,,0.2,,0.4},ytick={-30,-20,-10},yticklabels={30,20,10}]
\addplot[zero] coordinates {(0,-0.5)(0,-31.5)};
\end{axis}
\buildheat{\heatAr}{-50}{2.5}{0.5}{1}
\begin{axis}[heatbg,at={(374pt,502pt)},anchor=south west,width=262pt,height=139pt,xmin=-50,xmax=50,ymin=0.5,ymax=31.5,point meta min=-10,point meta max=80]
\heatsurf
\end{axis}
\begin{axis}[base,at={(374pt,502pt)},anchor=south west,width=262pt,height=139pt,xmin=-50,xmax=50,ymin=-31.5,ymax=-0.5,
  point meta min=-10,point meta max=80,cbar=29pt,colorbar style={ytick={0,20,40,60,80},yticklabels={0,20,40,60,80},xshift=1pt},
  xtick={-40,-30,...,40},xticklabels={-40,,-20,,0,,20,,40},ytick={-30,-20,-10},yticklabels={30,20,10}]
\addplot[zero] coordinates {(0,-0.5)(0,-31.5)};
\end{axis}

% --- B, line plots
\begin{axis}[base,at={(56pt,384pt)},anchor=south west,width=263pt,height=81pt,xmin=-0.5,xmax=0.5,ymin=0,ymax=20,
  xtick={-0.4,-0.3,...,0.41},xticklabels={},ytick={0,10,20},minor ytick={5,15}]
\addplot[zeropink] coordinates {(0,0)(0,20)};
\addplot[trace] coordinates {(-0.5,8.7)(-0.49,8.2)(-0.48,9.9)(-0.47,9.1)(-0.455,8.7)(-0.44,8.5)(-0.43,9.7)(-0.42,8.8)(-0.41,10)(-0.40,9.2)(-0.385,8.1)(-0.37,9.1)(-0.36,10.5)(-0.35,9.5)(-0.34,8.5)(-0.325,9.7)(-0.31,10.4)(-0.30,10.2)(-0.29,10.5)(-0.28,9.7)(-0.265,10)(-0.255,11.2)(-0.245,10.2)(-0.23,9.9)(-0.22,10)(-0.21,11.4)(-0.2,10.7)(-0.18,10.7)(-0.165,12.2)(-0.155,12)(-0.145,11.5)(-0.135,12.8)(-0.125,11.3)(-0.115,11.7)(-0.105,12.5)(-0.095,13.8)(-0.085,13)(-0.08,14.5)(-0.075,13.6)(-0.07,15.7)(-0.06,15.2)(-0.05,13.6)(-0.04,14.9)(-0.03,14.2)(-0.02,14.9)(-0.01,14.3)(-0.005,13)(0,13.2)(0.005,12.5)(0.01,11)(0.015,11.8)(0.025,10)(0.035,8.8)(0.045,8.3)(0.055,8.6)(0.065,8.4)(0.07,9.6)(0.075,9)(0.085,10.5)(0.095,12.8)(0.105,12.2)(0.115,11.5)(0.13,11)(0.145,10.2)(0.155,10.2)(0.165,9.7)(0.175,10.1)(0.185,9.4)(0.195,10.7)(0.205,9.6)(0.215,8.9)(0.225,9.6)(0.235,8.8)(0.245,9.9)(0.255,9)(0.265,9.5)(0.28,9.2)(0.29,9.3)(0.3,8.5)(0.31,7.9)(0.32,8.8)(0.33,8.4)(0.34,8.8)(0.35,8.5)(0.36,9.3)(0.37,8.3)(0.385,8.9)(0.4,8.9)(0.41,8.2)(0.42,8.9)(0.43,8.3)(0.44,8.7)(0.45,7.3)(0.46,8.6)(0.47,8.4)(0.485,8.2)(0.5,8.5)};
\end{axis}
\begin{axis}[base,at={(374pt,384pt)},anchor=south west,width=262pt,height=81pt,xmin=-50,xmax=50,ymin=0,ymax=20,
  xtick={-40,-30,...,40},xticklabels={},ytick={0,10,20},minor ytick={5,15}]
\addplot[zeropink] coordinates {(0,0)(0,20)};
\addplot[trace,smooth,tension=0.4] coordinates {(-50,15.2)(-47.8,18)(-45.9,14.6)(-44.3,15.2)(-42.7,12.9)(-41.1,14.4)(-38.7,13)(-35.5,16)(-33.2,14.4)(-31.7,16.2)(-30,14.6)(-28.2,15.9)(-25.7,12.1)(-22.9,17)(-21.4,14.2)(-19.6,15.2)(-17.3,12.3)(-14.5,15.9)(-12.8,14.6)(-10.3,15.9)(-8,12.6)(-6.2,14.6)(-4.6,11.3)(-2.7,10.7)(-1,16.7)(0,15.6)(2,12.1)(4.1,14.6)(5.9,12.3)(9,7)(11.3,11.9)(12.6,9.7)(15.1,11.7)(16.2,10.9)(17.7,13.2)(19.6,11.3)(22.1,9.5)(23.7,11.3)(25.3,9.2)(27.5,10.8)(30,8.2)(31.3,10)(33,8.4)(35.1,7.8)(36.6,9.2)(38,8)(39.7,9.8)(41.5,7.4)(43.8,8.2)(46.3,7.5)(48,8.6)(50,8.8)};
\end{axis}

% --- B, heat maps
\buildheat{\heatBl}{-0.5}{0.025}{1.2}{3.8235}
\begin{axis}[heatbg,at={(56pt,233pt)},anchor=south west,width=263pt,height=143pt,xmin=-0.5,xmax=0.5,ymin=1.2,ymax=131.2,point meta min=-5,point meta max=17]
\heatsurf
\end{axis}
\begin{axis}[base,at={(56pt,233pt)},anchor=south west,width=263pt,height=143pt,xmin=-0.5,xmax=0.5,ymin=-131.2,ymax=-1.2,
  point meta min=-5,point meta max=15,cbar=26.5pt,colorbar style={ytick={-5,0,5,10,15},yticklabels={-5,0,5,10,15}},
  xtick={-0.4,-0.3,...,0.41},xticklabels={-0.4,,-0.2,,0,,0.2,,0.4},ytick={-120,-80,-40},yticklabels={120,80,40},minor ytick={-100,-60,-20}]
\addplot[zero] coordinates {(0,-1.2)(0,-131.2)};
\end{axis}
\buildheat{\heatBr}{-50}{2.5}{1.2}{3.8235}
\begin{axis}[heatbg,at={(374pt,233pt)},anchor=south west,width=262pt,height=143pt,xmin=-50,xmax=50,ymin=1.2,ymax=131.2,point meta min=-5,point meta max=18]
\heatsurf
\end{axis}
\begin{axis}[base,at={(374pt,233pt)},anchor=south west,width=262pt,height=143pt,xmin=-50,xmax=50,ymin=-131.2,ymax=-1.2,
  point meta min=-5,point meta max=15,cbar=26.5pt,colorbar style={ytick={-5,0,5,10,15},yticklabels={-5,0,5,10,15},xshift=1pt},
  xtick={-40,-30,...,40},xticklabels={-40,,-20,,0,,20,,40},ytick={-120,-80,-40},yticklabels={120,80,40},minor ytick={-100,-60,-20}]
\addplot[zero] coordinates {(0,-1.2)(0,-131.2)};
\end{axis}

% --- C
\begin{axis}[base,at={(42pt,29pt)},anchor=south west,width=292pt,height=153pt,xmin=-0.4,xmax=0.4,ymin=15,ymax=55,
  xtick={-0.3,-0.2,...,0.31},xticklabels={-0.3,-0.2,-0.1,0,0.1,0.2,0.3},ytick={20,30,40,50},minor ytick={25,35,45,55}]
\addplot[rdot] table[x=x,y=ru] {\cLeft};
\addplot[bdot] table[x=x,y=bu] {\cLeft};
\addplot[kdot] table[x=x,y=ku] {\cLeft};
\addplot[kline] table[x=x,y=k] {\cLeft};
\addplot[bline] table[x=x,y=b] {\cLeft};
\addplot[rline] table[x=x,y=r] {\cLeft};
\addplot[black!75,line width=1.3pt,dash pattern=on 5pt off 3pt] coordinates {(0,15)(0,55)};
\end{axis}
\begin{axis}[base,at={(360pt,29pt)},anchor=south west,width=291pt,height=153pt,xmin=-0.4,xmax=0.4,ymin=6,ymax=12,
  xtick={-0.3,-0.2,...,0.31},xticklabels={-0.3,-0.2,-0.1,0,0.1,0.2,0.3},ytick={6,8,10,12},minor ytick={7,9,11}]
\addplot[rdot] table[x=x,y=ru] {\cRight};
\addplot[bdot] table[x=x,y=bu] {\cRight};
\addplot[kdot] table[x=x,y=ku] {\cRight};
\addplot[kline] table[x=x,y=k] {\cRight};
\addplot[bline] table[x=x,y=b] {\cRight};
\addplot[rline] table[x=x,y=r] {\cRight};
\addplot[black,line width=1.3pt,dash pattern=on 5pt off 3pt] coordinates {(0,6)(0,12)};
\end{axis}

% --- C, insets
\begin{axis}[base,at={(236.7pt,107.3pt)},anchor=south west,width=88.3pt,height=60.7pt,xmin=-40.5,xmax=40.5,ymin=16.3,ymax=50,
  xtick={-20,0,20},xticklabels={-20,0,20},ytick={20,30,40,50}]
\addplot[kline] table[x=x,y=k] {\insL};
\addplot[bline] table[x=x,y=b] {\insL};
\addplot[rline] table[x=x,y=r] {\insL};
\addplot[black!65,line width=1pt,dash pattern=on 4pt off 2.5pt] coordinates {(0,16.3)(0,50)};
\end{axis}
\begin{axis}[base,at={(557.7pt,122pt)},anchor=south west,width=89pt,height=69pt,xmin=-40.5,xmax=40.5,ymin=6,ymax=12,
  xtick={-20,0,20},xticklabels={-20,0,20},ytick={6,8,10,12}]
\addplot[kline] table[x=x,y=k] {\insR};
\addplot[bline] table[x=x,y=b] {\insR};
\addplot[rline] table[x=x,y=r] {\insR};
\addplot[black!65,line width=1pt,dash pattern=on 4pt off 2.5pt] coordinates {(0,6)(0,12)};
\end{axis}

% --- text
\lab[text=black]{8}{10}{\fs{17}\bfseries A}
\lab[text=black]{8}{272}{\fs{17}\bfseries B}
\lab[text=black]{8}{554}{\fs{17}\bfseries C}
\lab[rotate=90]{27}{59}{\fs{9.2}Frequency (Hz)}
\lab[rotate=90]{26}{323}{\fs{9.2}Frequency (Hz)}
\lab[rotate=90]{16}{642}{\fs{9.5}Frequency (Hz)}
\lab[rotate=90]{27}{188}{\fs{10}Neuron number}
\lab[rotate=90]{27}{438}{\fs{10}Neuron number}
\lab{190.5}{265}{\fs{10}Time from CA1 ripple trough (s)}
\lab{511}{265}{\fs{10}Time from CA1 ripple trough (ms)}
\lab{190.5}{533}{\fs{10}Time from CA1 ripple trough (s)}
\lab{511}{533}{\fs{10}Time from CA1 ripple trough (ms)}
\lab{190.5}{738}{\fs{10}Time from CA1 ripple trough (s)}
\lab{511}{738}{\fs{10}Time from CA1 ripple trough (s)}
\lab[rotate=90]{663}{170}{\fs{9}Z-score}
\lab[rotate=90]{662}{445}{\fs{9}Z-score}
\lab[anchor=west,text=putgreen]{65}{28}{\fs{10}Putative inhibitory}
\lab[anchor=west,text=putgreen]{65}{287}{\fs{10}Putative excitatory}
\lab[anchor=west,text=putgreen]{54}{570}{\fs{10}Putative inhibitory}
\lab[anchor=west,text=putgreen]{371}{570}{\fs{10}Putative excitatory}
\draw[-{Latex[length=6pt,width=7pt]},rred,line width=2pt] (538,726) -- (527,726);
\lab[anchor=west,text=black!65]{542}{20}{\fs{9}delay: 4.5 ms}
\draw[rred,line width=1.2pt] (58,133) -- (67,133);
\draw[rblue,line width=1.2pt] (58,122) -- (67,122);
\draw[black,line width=1.2pt] (58,110.5) -- (67,110.5);
\lab[anchor=west]{70}{611}{\fs{9.3}large ripple}
\lab[anchor=west]{70}{622}{\fs{9.3}medium ripple}
\lab[anchor=west]{70}{633.7}{\fs{9.3}small ripple}
\lab[anchor=west]{60.7}{664}{\fs{9}n = 31}
\lab[anchor=west]{376}{700.7}{\fs{9}n = 130}
\lab[rotate=90]{214.7}{610}{\fs{9}Freq. (Hz)}
\lab{280}{657}{\fs{9}(ms)}
\lab[rotate=90]{537}{597}{\fs{9}Freq. (Hz)}
\lab{602}{641.7}{\fs{9}(ms)}
\end{tikzpicture}
\end{document}
